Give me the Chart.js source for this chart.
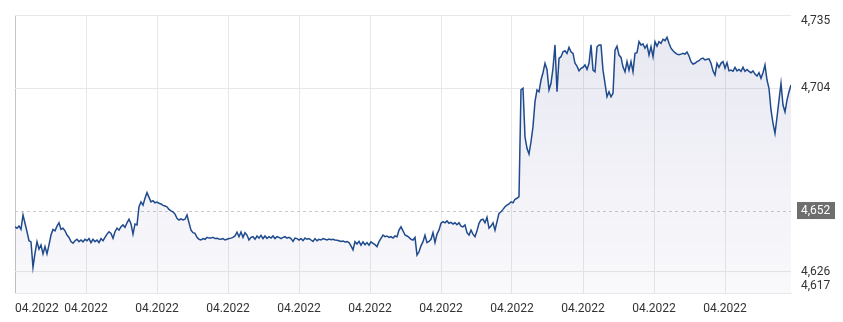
<!DOCTYPE html>
<html lang="en">
<head>
    <meta charset="UTF-8">
    <title>Kurs 04.2022</title>
    <script src="https://cdn.jsdelivr.net/npm/chart.js@4.4.1/dist/chart.umd.min.js"></script>
    <style>
        html, body {
            margin: 0;
            padding: 0;
            background: #ffffff;
        }
        #wrap {
            width: 843px;
            height: 322px;
        }
    </style>
</head>
<body>
    <div id="wrap"><canvas id="chart" width="843" height="322"></canvas></div>

    <script>
        // Rate values left to right (evenly spaced quotes)
        const rates = [
            // first part
            4.6451, 4.6445, 4.6454, 4.6440, 4.6501, 4.6466, 4.6430, 4.6392, 4.6387, 4.6279,
            4.6339, 4.6388, 4.6356, 4.6374, 4.6336, 4.6367, 4.6336, 4.6374, 4.6416, 4.6440,
            4.6434, 4.6454, 4.6468, 4.6440, 4.6445, 4.6434, 4.6416, 4.6406, 4.6388, 4.6381,
            4.6392, 4.6398, 4.6388, 4.6395, 4.6387, 4.6398, 4.6392, 4.6401, 4.6384, 4.6398,
            4.6388, 4.6395, 4.6384, 4.6401, 4.6392, 4.6406, 4.6420, 4.6430,
            4.6423, 4.6402, 4.6430, 4.6445, 4.6437, 4.6451, 4.6459, 4.6449, 4.6468, 4.6483,
            4.6463, 4.6420, 4.6463, 4.6459, 4.6536, 4.6557, 4.6543, 4.6572, 4.6596, 4.6576,
            4.6557, 4.6562, 4.6553, 4.6556, 4.6551, 4.6548, 4.6542, 4.6539, 4.6536, 4.6525,
            4.6519, 4.6514, 4.6505, 4.6487, 4.6480, 4.6485, 4.6480, 4.6483, 4.6501, 4.6468,
            4.6437, 4.6426, 4.6423, 4.6406, 4.6398, 4.6395, 4.6401, 4.6398, 4.6406, 4.6403,
            // flat middle
            4.6403, 4.6406, 4.6401, 4.6402, 4.6399, 4.6398, 4.6401, 4.6395, 4.6398, 4.6401,
            4.6403, 4.6406, 4.6412, 4.6428, 4.6409, 4.6429, 4.6406, 4.6426, 4.6416, 4.6395,
            4.6406, 4.6409, 4.6398, 4.6412, 4.6403, 4.6415, 4.6401, 4.6412, 4.6402, 4.6409,
            4.6403, 4.6412, 4.6401, 4.6409, 4.6406, 4.6401, 4.6406, 4.6409, 4.6403, 4.6406,
            4.6401, 4.6389, 4.6403, 4.6401, 4.6395, 4.6401, 4.6392, 4.6403, 4.6398, 4.6401,
            4.6395, 4.6389, 4.6401, 4.6392, 4.6398, 4.6395, 4.6401, 4.6398, 4.6395, 4.6399,
            4.6396, 4.6398, 4.6395, 4.6394, 4.6392, 4.6389, 4.6391, 4.6387, 4.6388, 4.6384,
            4.6370, 4.6353, 4.6388, 4.6378, 4.6389, 4.6373, 4.6387, 4.6375, 4.6384, 4.6373,
            4.6387, 4.6381, 4.6375, 4.6367, 4.6388, 4.6402, 4.6416, 4.6409, 4.6412, 4.6406,
            4.6409, 4.6403, 4.6412, 4.6409, 4.6437, 4.6451, 4.6434, 4.6416, 4.6412, 4.6406,
            // slow climb
            4.6398, 4.6395, 4.6406, 4.6331, 4.6345, 4.6370, 4.6388, 4.6415, 4.6384, 4.6389,
            4.6398, 4.6426, 4.6384, 4.6420, 4.6437, 4.6466, 4.6473, 4.6468, 4.6476, 4.6466,
            4.6470, 4.6463, 4.6468, 4.6460, 4.6468, 4.6454, 4.6451, 4.6459, 4.6426, 4.6416,
            4.6437, 4.6420, 4.6409, 4.6434, 4.6466, 4.6480, 4.6483, 4.6468, 4.6491, 4.6445,
            4.6454, 4.6468, 4.6437, 4.6473, 4.6508, 4.6515, 4.6525, 4.6536, 4.6543, 4.6548,
            // jump
            4.6557, 4.6553, 4.6568, 4.6572, 4.6579, 4.7032, 4.7039, 4.6833, 4.6784, 4.6760,
            4.6812, 4.6876, 4.6982, 4.7032, 4.7024, 4.7074, 4.7105, 4.7145, 4.7119, 4.7032,
            4.7060, 4.7124, 4.7223, 4.7024, 4.7166, 4.7173, 4.7194, 4.7198, 4.7187, 4.7213,
            4.7194, 4.7187, 4.7145, 4.7133, 4.7113, 4.7124, 4.7128, 4.7138, 4.7119, 4.7145,
            4.7223, 4.7116, 4.7109, 4.7215, 4.7223, 4.7223, 4.7116,
            // top range
            4.7060, 4.7003, 4.7024, 4.7003, 4.7018, 4.7201, 4.7218, 4.7180, 4.7170, 4.7130,
            4.7109, 4.7152, 4.7116, 4.7152, 4.7109, 4.7187, 4.7190, 4.7237, 4.7223, 4.7227,
            4.7209, 4.7223, 4.7180, 4.7215, 4.7173, 4.7237, 4.7218, 4.7237, 4.7230, 4.7247,
            4.7241, 4.7255, 4.7230, 4.7209, 4.7198, 4.7190, 4.7184, 4.7181, 4.7184, 4.7187,
            4.7184, 4.7193, 4.7176, 4.7152, 4.7142, 4.7145, 4.7152, 4.7156,
            // last part
            4.7164, 4.7167, 4.7159, 4.7162, 4.7164, 4.7145, 4.7113, 4.7095, 4.7145, 4.7128,
            4.7145, 4.7152, 4.7124, 4.7147, 4.7113, 4.7116, 4.7111, 4.7128, 4.7113, 4.7119,
            4.7111, 4.7128, 4.7111, 4.7119, 4.7111, 4.7105, 4.7113, 4.7099, 4.7091, 4.7105,
            4.7081, 4.7105, 4.7138, 4.7074, 4.7039, 4.6947, 4.6890, 4.6848, 4.6916, 4.6989,
            4.7060, 4.6968, 4.6939, 4.6989, 4.7024, 4.7053
        ];

        // axis labels
        const xTickLabels = ["04.2022", "04.2022", "04.2022", "04.2022", "04.2022", "04.2022",
                             "04.2022", "04.2022", "04.2022", "04.2022", "04.2022"];
        const yTicks = [4.735, 4.704, 4.626, 4.617];
        const yMin = 4.617;
        const yMax = 4.735;
        const refValue = 4.652;

        // one x label every 35.5 quotes
        const xStep = 35.5;

        function fmt(v) {
            return v.toFixed(3).replace(".", ",");
        }

        // dashed reference line + axis labels
        const labelsPlugin = {
            id: "labelsPlugin",
            beforeDatasetsDraw(chart) {
                const { ctx, chartArea, scales } = chart;
                const yy = Math.round(scales.y.getPixelForValue(refValue)) + 0.5;
                ctx.save();
                ctx.strokeStyle = "#c9c9c9";
                ctx.lineWidth = 1;
                ctx.setLineDash([3, 3]);
                ctx.beginPath();
                ctx.moveTo(chartArea.left, yy);
                ctx.lineTo(chartArea.right, yy);
                ctx.stroke();
                ctx.restore();
            },
            afterDraw(chart) {
                const { ctx, chartArea, scales } = chart;
                ctx.save();
                ctx.font = "12px Roboto";
                ctx.fillStyle = "#333333";
                ctx.textBaseline = "middle";

                // right axis
                ctx.textAlign = "left";
                yTicks.forEach(v => {
                    let py = scales.y.getPixelForValue(v);
                    py = Math.max(chartArea.top + 6, Math.min(chartArea.bottom - 7, py));
                    ctx.fillText(fmt(v), chartArea.right + 10, py);
                });

                // current value box
                const ry = scales.y.getPixelForValue(refValue);
                ctx.fillStyle = "#6e6e6e";
                ctx.fillRect(chartArea.right + 6, ry - 8.5, 38, 17);
                ctx.fillStyle = "#ffffff";
                ctx.fillText(fmt(refValue), chartArea.right + 10, ry + 0.5);

                // bottom axis
                ctx.fillStyle = "#333333";
                xTickLabels.forEach((lbl, i) => {
                    const px = scales.x.getPixelForValue(i * xStep);
                    ctx.textAlign = i === 0 ? "left" : "center";
                    ctx.fillText(lbl, px, chartArea.bottom + 16);
                });
                ctx.restore();
            }
        };

        const ctx = document.getElementById("chart").getContext("2d");
        const chart = new Chart(ctx, {
            type: "line",
            data: {
                labels: rates.map((r, i) => i),
                datasets: [{
                    data: rates,
                    borderColor: "#1f4a8c",
                    borderWidth: 1.5,
                    pointRadius: 0,
                    tension: 0,
                    fill: "start",
                    backgroundColor: (context) => {
                        const area = context.chart.chartArea;
                        if (!area) return "rgba(70,70,160,0.06)";
                        const g = context.chart.ctx.createLinearGradient(0, area.top, 0, area.bottom);
                        g.addColorStop(0, "rgba(70,70,150,0.13)");
                        g.addColorStop(1, "rgba(70,70,150,0.03)");
                        return g;
                    }
                }]
            },
            options: {
                responsive: false,
                animation: false,
                layout: {
                    padding: { left: 15, top: 15, right: 0, bottom: 0 }
                },
                plugins: {
                    legend: { display: false },
                    tooltip: { enabled: false }
                },
                scales: {
                    x: {
                        type: "linear",
                        min: 0,
                        max: rates.length - 1,
                        afterBuildTicks: (scale) => {
                            scale.ticks = xTickLabels.map((l, i) => ({ value: i * xStep }));
                        },
                        afterFit: (scale) => { scale.height = 29; },
                        ticks: { display: false },
                        grid: {
                            drawTicks: false,
                            color: (c) => c.index === 0 ? "#c4c4c4" : "#e8e8e8"
                        },
                        border: { display: true, color: "#e8e8e8" }
                    },
                    y: {
                        type: "linear",
                        position: "right",
                        min: yMin,
                        max: yMax,
                        afterBuildTicks: (scale) => {
                            scale.ticks = yTicks.map(v => ({ value: v }));
                        },
                        afterFit: (scale) => { scale.width = 52; },
                        ticks: { display: false },
                        grid: {
                            drawTicks: false,
                            color: "#e8e8e8"
                        },
                        border: { display: false }
                    }
                }
            },
            plugins: [labelsPlugin]
        });
    </script>
</body>
</html>
